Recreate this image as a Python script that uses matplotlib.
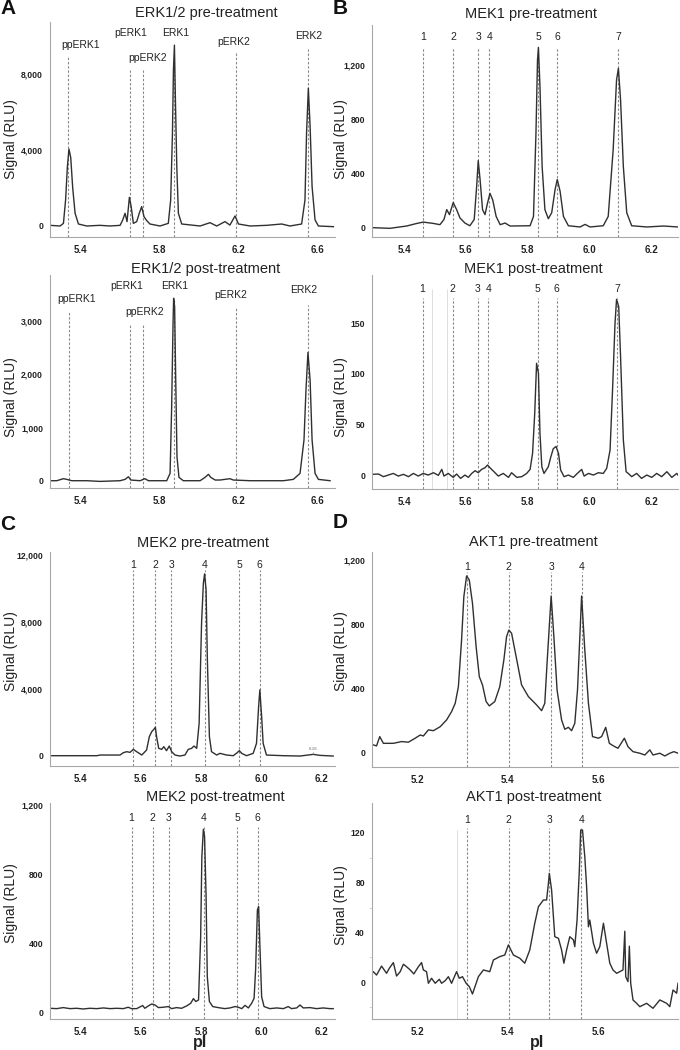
import matplotlib.pyplot as plt

plt.rcParams['font.family'] = ['Liberation Sans', 'DejaVu Sans']

# ---------------- data (pI vs signal, RLU) ----------------
ERK_NAMES = ["ppERK1", "pERK1", "ppERK2", "ERK1", "pERK2", "ERK2"]
ERK_PRE_MARKS = [5.341, 5.653, 5.717, 5.878, 6.190, 6.553]
ERK_POST_MARKS = [5.344, 5.653, 5.717, 5.878, 6.190, 6.553]

ERK_PRE_PI = [5.248, 5.299, 5.316, 5.327, 5.336, 5.344, 5.353, 5.363, 5.375, 5.392,
              5.434, 5.501, 5.552, 5.603, 5.616, 5.628, 5.638, 5.650, 5.659, 5.670,
              5.687, 5.700, 5.712, 5.724, 5.738, 5.754, 5.805, 5.847, 5.859, 5.868,
              5.873, 5.878, 5.883, 5.890, 5.898, 5.915, 6.008, 6.058, 6.092, 6.134,
              6.159, 6.185, 6.202, 6.261, 6.345, 6.421, 6.463, 6.522, 6.539, 6.547,
              6.556, 6.565, 6.575, 6.590, 6.607, 6.683]
ERK_PRE_RLU = [35, 0, 140, 1370, 3120, 4050, 3600, 2000, 670, 105,
               0, 35, 0, 35, 315, 670, 230, 1510, 1020, 140,
               230, 670, 1020, 490, 280, 105, 0, 140, 1370, 4880,
               8210, 9520, 6630, 3120, 670, 105, 0, 175, 0, 230,
               50, 530, 105, 0, 35, 105, 0, 105, 1370, 4880,
               7250, 5230, 2070, 320, 0, -35]

ERK_POST_PI = [5.248, 5.282, 5.316, 5.333, 5.358, 5.434, 5.501, 5.603, 5.628, 5.645,
               5.657, 5.704, 5.729, 5.746, 5.839, 5.856, 5.864, 5.871, 5.874, 5.879,
               5.884, 5.891, 5.901, 5.923, 6.008, 6.033, 6.050, 6.062, 6.084, 6.109,
               6.159, 6.176, 6.261, 6.345, 6.430, 6.480, 6.514, 6.534, 6.544, 6.554,
               6.565, 6.575, 6.590, 6.607, 6.666]
ERK_POST_RLU = [0, 0, 38, 25, 0, 0, -13, 0, 25, 75,
                13, 0, 38, 0, 0, 138, 1390, 2960, 3430, 3270,
                2020, 450, 63, 0, 0, 63, 120, 63, 13, 13,
                38, 13, 0, 0, 0, 25, 138, 765, 1700, 2410,
                1890, 765, 138, 25, 0]

MEK1_NAMES = ["1", "2", "3", "4", "5", "6", "7"]
MEK1_PRE_MARKS = [5.462, 5.559, 5.640, 5.676, 5.835, 5.896, 6.094]
MEK1_POST_MARKS = [5.460, 5.557, 5.638, 5.673, 5.832, 5.894, 6.090]
MEK1_POST_FAINT = [5.489, 5.540]

MEK1_PRE_PI = [5.296, 5.354, 5.408, 5.441, 5.462, 5.495, 5.516, 5.529, 5.538, 5.547,
               5.559, 5.570, 5.581, 5.597, 5.613, 5.627, 5.635, 5.640, 5.646, 5.654,
               5.662, 5.670, 5.678, 5.687, 5.698, 5.711, 5.727, 5.743, 5.808, 5.819,
               5.827, 5.832, 5.835, 5.840, 5.847, 5.856, 5.867, 5.878, 5.889, 5.896,
               5.905, 5.916, 5.932, 5.970, 5.986, 6.002, 6.045, 6.061, 6.077, 6.088,
               6.094, 6.101, 6.110, 6.121, 6.137, 6.186, 6.240, 6.287]
MEK1_PRE_RLU = [0, -5, 12, 31, 41, 31, 22, 60, 133, 96,
                185, 133, 71, 34, 14, 60, 306, 494, 355, 133,
                96, 180, 253, 204, 83, 22, 34, 12, 14, 83,
                697, 1237, 1330, 1040, 450, 133, 66, 110, 282, 355,
                270, 83, 14, 5, 24, 5, 14, 83, 574, 1090,
                1175, 942, 450, 110, 14, 5, 12, 5]

MEK1_POST_PI = [5.296, 5.317, 5.333, 5.349, 5.365, 5.381, 5.398, 5.414, 5.430, 5.446,
                5.462, 5.478, 5.495, 5.511, 5.522, 5.529, 5.543, 5.559, 5.570, 5.583,
                5.597, 5.608, 5.619, 5.630, 5.640, 5.651, 5.662, 5.670, 5.680, 5.691,
                5.705, 5.721, 5.738, 5.748, 5.765, 5.781, 5.797, 5.808, 5.816, 5.823,
                5.829, 5.835, 5.840, 5.846, 5.853, 5.860, 5.867, 5.875, 5.883, 5.892,
                5.900, 5.907, 5.918, 5.932, 5.948, 5.961, 5.975, 5.983, 5.997, 6.013,
                6.029, 6.045, 6.056, 6.067, 6.075, 6.083, 6.088, 6.095, 6.101, 6.110,
                6.119, 6.126, 6.137, 6.153, 6.169, 6.186, 6.202, 6.218, 6.234, 6.251,
                6.267, 6.283, 6.287]
MEK1_POST_RLU = [0.7, 1.0, -1.6, 0.0, 1.6, -1.0, 0.7, -1.6, 1.6, -1.0,
                 1.6, 0.0, 2.3, -0.3, 5.6, -1.0, 1.6, -2.3, 1.0, -3.3,
                 0.0, -2.3, 1.6, 4.3, 2.3, 5.6, 7.2, 9.9, 6.6, 3.3,
                 -1.0, 1.6, -2.3, 2.3, -2.3, -1.6, 1.6, 5.6, 21.4, 61.0,
                 110.5, 100.6, 41.2, 8.2, 1.6, 4.9, 8.2, 17.8, 26.0, 28.3,
                 21.4, 4.9, -1.6, 0.0, -2.3, 1.6, 5.6, -1.0, 1.6, 0.0,
                 2.3, 1.6, 6.6, 24.7, 84.0, 150.0, 173.7, 166.5, 117.0, 34.6,
                 3.3, 1.6, -1.6, 1.6, -3.3, 0.0, -2.3, 1.6, -1.6, 3.3,
                 -2.3, 1.6, 0.0]

MEK2_NAMES = ["1", "2", "3", "4", "5", "6"]
MEK2_PRE_MARKS = [5.576, 5.648, 5.701, 5.813, 5.927, 5.995]
MEK2_POST_MARKS = [5.570, 5.640, 5.694, 5.810, 5.920, 5.988]

MEK2_PRE_PI = [5.306, 5.455, 5.466, 5.532, 5.543, 5.554, 5.565, 5.576, 5.587, 5.604,
               5.620, 5.629, 5.637, 5.644, 5.649, 5.653, 5.660, 5.670, 5.677, 5.686,
               5.695, 5.703, 5.714, 5.730, 5.747, 5.758, 5.769, 5.777, 5.786, 5.794,
               5.802, 5.808, 5.812, 5.817, 5.821, 5.828, 5.835, 5.852, 5.863, 5.885,
               5.907, 5.920, 5.927, 5.935, 5.951, 5.973, 5.984, 5.991, 5.995, 6.001,
               6.006, 6.017, 6.073, 6.128, 6.155, 6.172, 6.194, 6.238]
MEK2_PRE_RLU = [0, 0, 40, 40, 180, 240, 200, 380, 240, 40,
                340, 1140, 1440, 1580, 1700, 1140, 440, 380, 540, 300,
                580, 240, 40, -20, 40, 380, 440, 580, 440, 1940,
                7930, 10330, 10890, 9930, 5940, 1140, 240, 40, 140, 40,
                0, 180, 300, 140, 0, 140, 740, 2940, 3940, 2340,
                740, 40, 0, -20, 40, 80, 20, -20]

MEK2_POST_PI = [5.300, 5.322, 5.344, 5.366, 5.388, 5.410, 5.432, 5.455, 5.477, 5.499,
                5.521, 5.543, 5.559, 5.570, 5.587, 5.607, 5.614, 5.626, 5.637, 5.648,
                5.659, 5.675, 5.692, 5.703, 5.719, 5.736, 5.753, 5.766, 5.775, 5.783,
                5.792, 5.799, 5.803, 5.808, 5.812, 5.817, 5.821, 5.828, 5.839, 5.857,
                5.879, 5.896, 5.913, 5.924, 5.935, 5.946, 5.957, 5.968, 5.976, 5.981,
                5.987, 5.991, 5.995, 6.001, 6.009, 6.028, 6.051, 6.073, 6.089, 6.100,
                6.117, 6.128, 6.139, 6.161, 6.183, 6.205, 6.227, 6.238]
MEK2_POST_RLU = [23, 21, 27, 21, 23, 19, 23, 21, 25, 21,
                 23, 21, 29, 21, 21, 39, 23, 37, 48, 42,
                 27, 29, 33, 21, 27, 23, 37, 52, 79, 62,
                 71, 436, 900, 1059, 1016, 669, 206, 62, 33, 27,
                 21, 25, 33, 29, 21, 40, 25, 52, 81, 245,
                 592, 611, 399, 90, 33, 21, 25, 21, 33, 21,
                 25, 42, 25, 27, 21, 25, 21, 21]

AKT1_NAMES = ["1", "2", "3", "4"]
AKT1_PRE_MARKS = [5.311, 5.402, 5.495, 5.562]
AKT1_POST_MARKS = [5.311, 5.402, 5.491, 5.561]
AKT1_POST_FAINT = [5.289]

AKT1_PRE_PI = [5.104, 5.111, 5.118, 5.126, 5.148, 5.166, 5.181, 5.196, 5.207, 5.214,
               5.225, 5.236, 5.251, 5.265, 5.276, 5.284, 5.291, 5.298, 5.303, 5.309,
               5.315, 5.322, 5.330, 5.337, 5.344, 5.352, 5.359, 5.371, 5.382, 5.391,
               5.397, 5.402, 5.408, 5.418, 5.430, 5.445, 5.463, 5.474, 5.481, 5.486,
               5.495, 5.501, 5.508, 5.518, 5.525, 5.533, 5.540, 5.547, 5.553, 5.562,
               5.569, 5.577, 5.586, 5.599, 5.606, 5.615, 5.623, 5.632, 5.642, 5.656,
               5.664, 5.675, 5.690, 5.701, 5.712, 5.719, 5.734, 5.745, 5.756, 5.765,
               5.774]
AKT1_PRE_RLU = [46, 40, 98, 56, 56, 67, 63, 88, 108, 102,
                140, 135, 160, 202, 254, 306, 410, 702, 973, 1102,
                1077, 931, 660, 473, 421, 317, 290, 317, 410, 577,
                723, 764, 744, 598, 421, 348, 296, 260, 306, 556,
                977, 723, 390, 202, 144, 156, 135, 181, 390, 977,
                640, 306, 98, 88, 98, 156, 56, 40, 25, 88,
                35, 4, -6, -17, 15, -17, -6, -23, -6, 4,
                -6]

AKT1_POST_PI = [5.101, 5.104, 5.111, 5.122, 5.133, 5.139, 5.148, 5.155, 5.163, 5.170,
                5.177, 5.185, 5.193, 5.203, 5.210, 5.214, 5.221, 5.225, 5.232, 5.240,
                5.249, 5.254, 5.262, 5.269, 5.276, 5.287, 5.293, 5.300, 5.308, 5.315,
                5.322, 5.335, 5.346, 5.360, 5.368, 5.382, 5.393, 5.401, 5.412, 5.426,
                5.437, 5.448, 5.459, 5.467, 5.478, 5.485, 5.489, 5.491, 5.496, 5.503,
                5.511, 5.518, 5.523, 5.529, 5.536, 5.544, 5.547, 5.552, 5.557, 5.560,
                5.564, 5.569, 5.573, 5.577, 5.580, 5.588, 5.595, 5.602, 5.610, 5.617,
                5.624, 5.631, 5.639, 5.653, 5.657, 5.659, 5.664, 5.667, 5.670, 5.675,
                5.683, 5.690, 5.705, 5.719, 5.734, 5.749, 5.756, 5.763, 5.771, 5.774]
AKT1_POST_RLU = [7.2, 8.5, 5.8, 13.0, 7.2, 11.2, 15.8, 5.0, 8.5, 14.5,
                 12.5, 9.9, 6.7, 12.5, 15.8, 9.9, 8.5, -0.8, 3.2, -0.8,
                 2.4, -0.8, 1.3, 4.5, -0.8, 8.5, 3.2, 4.5, -0.8, -3.5,
                 -9.4, 4.5, 9.9, 8.5, 17.9, 20.6, 21.9, 30.0, 21.9, 19.3,
                 15.3, 25.9, 47.4, 60.7, 66.1, 66.1, 79.5, 87.5, 74.1, 36.6,
                 35.3, 25.9, 15.3, 25.9, 36.6, 34.0, 28.6, 50.0, 90.2, 122.3,
                 122.3, 100.9, 76.8, 44.6, 50.0, 31.3, 23.3, 28.6, 47.4, 31.3,
                 15.3, 9.9, 7.2, 9.9, 41.0, 4.5, 0.5, 29.0, -0.8, -14.2,
                 -16.9, -19.6, -16.9, -20.9, -14.2, -16.9, -19.6, -6.2, -8.8, -0.8]

# ---------------- layout (pixels of a 680x1050 canvas) ----------------
W, H = 680, 1050
fig = plt.figure(figsize=(W / 100, H / 100), dpi=100)
TRACE = '#303030'
DASH = '#8a8a8a'
SPINE = '#a8a8a8'
TXT = '#222222'


def add_axes(l, t, r, b):
    return fig.add_axes([l / W, 1 - b / H, (r - l) / W, (b - t) / H])


def ftext(x, y, s, **kw):
    fig.text(x / W, 1 - y / H, s, **kw)


def panel(rect, xlim, ylim, xticks, yticks, pi, rlu, marks, tops, names,
          lab_x, lab_y, faint=(), faint_top=None):
    ax = add_axes(*rect)
    for f in faint:
        ax.vlines(f, ylim[0], faint_top, colors='#dddddd', lw=0.7)
    ax.vlines(marks, ylim[0], tops, colors=DASH, lw=0.8,
              linestyles=(0, (2.2, 1.6)))
    ax.plot(pi, rlu, color=TRACE, lw=1.0)
    for s, x, y in zip(names, lab_x, lab_y):
        ax.text(x, y, s, ha='center', va='center', fontsize=7.5, color=TXT)
    ax.set_xlim(xlim)
    ax.set_ylim(ylim)
    ax.set_xticks(xticks)
    ax.set_xticklabels([f'{v:.1f}' for v in xticks], fontsize=7,
                       fontweight='bold', color=TXT)
    ax.set_yticks(yticks)
    ax.set_yticklabels([f'{v:,}' for v in yticks], fontsize=6.2,
                       fontweight='bold', color=TXT)
    ax.tick_params(axis='x', length=0, pad=5.5)
    ax.tick_params(axis='y', length=0, pad=5)
    for s in ('top', 'right'):
        ax.spines[s].set_visible(False)
    for s in ('left', 'bottom'):
        ax.spines[s].set_color(SPINE)
        ax.spines[s].set_linewidth(0.8)
    ax.patch.set_alpha(0)
    return ax


ERK_X = [5.4, 5.8, 6.2, 6.6]
MEK_X = [5.4, 5.6, 5.8, 6.0, 6.2]
AKT_X = [5.2, 5.4, 5.6]

# A: ERK1/2
panel((50, 22, 335, 237), (5.248, 6.691), (-579, 10737), ERK_X, [0, 4000, 8000],
      ERK_PRE_PI, ERK_PRE_RLU, ERK_PRE_MARKS, [8910, 8230, 8230, 9000, 9140, 9300],
      ERK_NAMES, [5.402, 5.657, 5.743, 5.884, 6.180, 6.556],
      [9526, 10175, 8860, 10175, 9700, 10020])
panel((50, 275, 335, 488), (5.248, 6.691), (-137, 3867), ERK_X, [0, 1000, 2000, 3000],
      ERK_POST_PI, ERK_POST_RLU, ERK_POST_MARKS, [3180, 2930, 2930, 3400, 3240, 3300],
      ERK_NAMES, [5.385, 5.636, 5.729, 5.881, 6.163, 6.534],
      [3410, 3660, 3180, 3660, 3500, 3580])

# B: MEK1
panel((372, 25, 678, 237), (5.296, 6.287), (-69, 1495), MEK_X, [0, 400, 800, 1200],
      MEK1_PRE_PI, MEK1_PRE_RLU, MEK1_PRE_MARKS, 1335, MEK1_NAMES,
      MEK1_PRE_MARKS, [1404] * 7)
panel((372, 275, 678, 489), (5.296, 6.287), (-13.8, 197.8), MEK_X, [0, 50, 100, 150],
      MEK1_POST_PI, MEK1_POST_RLU, MEK1_POST_MARKS, 174.7, MEK1_NAMES,
      MEK1_POST_MARKS, [183.6] * 7, faint=MEK1_POST_FAINT, faint_top=184)

# C: MEK2
axc = panel((50, 552, 335, 766), (5.300, 6.244), (-617, 12200), MEK_X,
            [0, 4000, 8000, 12000], MEK2_PRE_PI, MEK2_PRE_RLU, MEK2_PRE_MARKS, 11120,
            MEK2_NAMES, MEK2_PRE_MARKS, [11420] * 6)
axc.text(6.172, 420, '6.16', fontsize=3.2, color='#666666', ha='center', va='center')
axc.vlines(6.172, 90, 230, colors='#888888', lw=0.5)
panel((50, 803, 335, 1019), (5.300, 6.244), (-39, 1211), MEK_X, [0, 400, 800, 1200],
      MEK2_POST_PI, MEK2_POST_RLU, MEK2_POST_MARKS, 1075, MEK2_NAMES,
      MEK2_POST_MARKS, [1127] * 6)

# D: AKT1
panel((372, 552, 678, 767), (5.101, 5.774), (-92, 1252), AKT_X, [0, 400, 800, 1200],
      AKT1_PRE_PI, AKT1_PRE_RLU, AKT1_PRE_MARKS, 1129, AKT1_NAMES,
      AKT1_PRE_MARKS, [1156] * 4)
axd = panel((372, 803, 678, 1019), (5.101, 5.774), (-29.5, 144), AKT_X, [0, 40, 80, 120],
            AKT1_POST_PI, AKT1_POST_RLU, AKT1_POST_MARKS, 123.7, AKT1_NAMES,
            AKT1_POST_MARKS, [130] * 4, faint=AKT1_POST_FAINT, faint_top=122)
axd.set_yticks([-20, 20, 60, 100], minor=True)
axd.tick_params(axis='y', which='minor', length=2, color='#d0d0d0')

# titles
for x, y, s in [(206, 13, 'ERK1/2 pre-treatment'), (206, 269, 'ERK1/2 post-treatment'),
                (531, 14, 'MEK1 pre-treatment'), (533, 269, 'MEK1 post-treatment'),
                (203, 543, 'MEK2 pre-treatment'), (215, 797, 'MEK2 post-treatment'),
                (533, 542, 'AKT1 pre-treatment'), (534, 797, 'AKT1 post-treatment')]:
    ftext(x, y, s, ha='center', va='center', fontsize=10.5, color=TXT)

# y axis labels
for x, y in [(11, 139), (11, 397), (11, 651), (11, 903),
             (341, 139), (341, 397), (341, 651), (341, 905)]:
    ftext(x, y, 'Signal (RLU)', ha='center', va='center', rotation=90,
          fontsize=10, color=TXT)

# pI labels
for x in (200, 537):
    ftext(x, 1042, 'pI', ha='center', va='center', fontsize=11.5,
          fontweight='bold', color=TXT)

# panel letters
for x, y, s in [(8, 9, 'A'), (340, 9, 'B'), (8, 525, 'C'), (340, 523, 'D')]:
    ftext(x, y, s, ha='center', va='center', fontsize=15, fontweight='bold',
          color='#111111')

fig.savefig('out.png', dpi=100)
